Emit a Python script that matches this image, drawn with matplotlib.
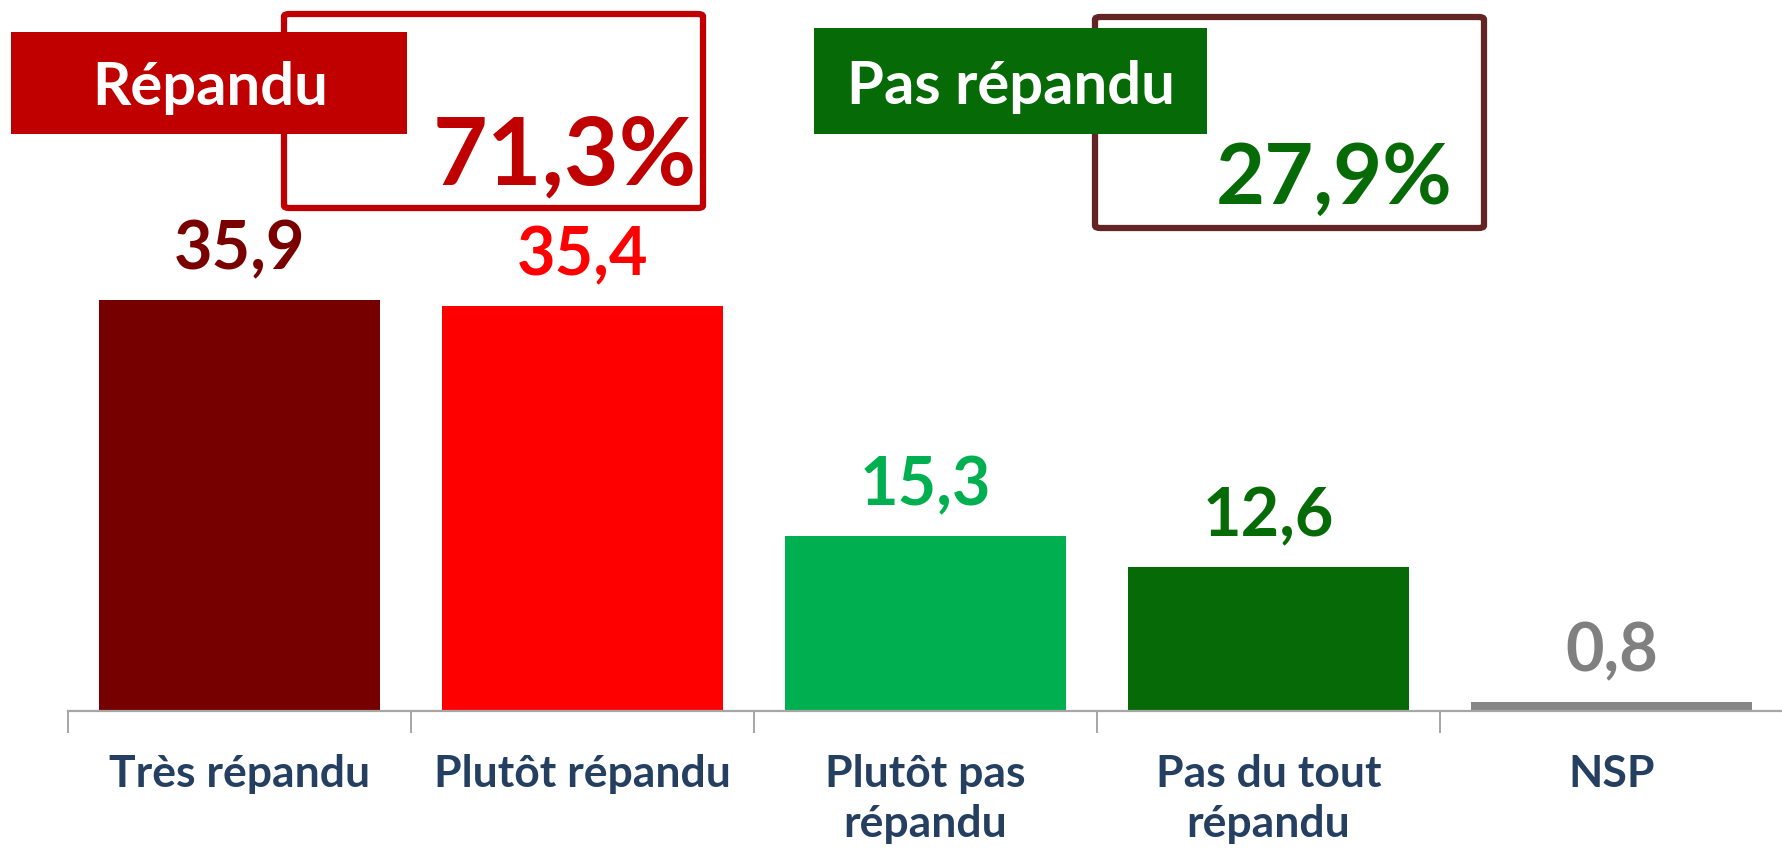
import matplotlib
matplotlib.use("Agg")
import matplotlib.pyplot as plt
from matplotlib.patches import Rectangle, FancyBboxPatch

plt.rcParams['font.family'] = ['Lato', 'DejaVu Sans']
plt.rcParams['font.weight'] = 'bold'

# data
categories = ["Très répandu", "Plutôt répandu", "Plutôt pas\nrépandu", "Pas du tout\nrépandu", "NSP"]
values = [35.9, 35.4, 15.3, 12.6, 0.8]
value_labels = ["35,9", "35,4", "15,3", "12,6", "0,8"]
bar_colors = ["#760000", "#FF0000", "#00B050", "#066B06", "#878787"]
label_colors = ["#7A0000", "#FF0000", "#00B050", "#066B06", "#808080"]
group_names = ["Répandu", "Pas répandu"]
group_totals = ["71,3%", "27,9%"]

W, H = 1783, 855
fig = plt.figure(figsize=(W / 100, H / 100), dpi=100)
ax = fig.add_axes([68 / W, 144 / H, 1715 / W, 711 / H])

x = range(len(categories))
ax.bar(x, values, width=0.82, color=bar_colors)
for i, v in enumerate(values):
    ax.text(i, v + 2.7, value_labels[i], ha="center", va="baseline",
            fontsize=48, fontweight="bold", color=label_colors[i])

ax.set_xlim(-0.5, 4.5)
ax.set_ylim(0, 62.15)
for s in ["top", "right", "left"]:
    ax.spines[s].set_visible(False)
ax.spines["bottom"].set_color("#A6A6A6")
ax.spines["bottom"].set_linewidth(1.6)
ax.set_yticks([])
ax.set_xticks(list(x))
ax.set_xticklabels(categories, fontsize=32, fontweight="bold", color="#243F60",
                   linespacing=1.3)
ax.tick_params(axis="x", which="major", length=0, pad=31)
ax.set_xticks([i - 0.5 for i in range(len(categories) + 1)], minor=True)
ax.tick_params(axis="x", which="minor", length=16, width=1.4, color="#A6A6A6")


def fx(px):
    return px / W


def fy(py):
    return 1 - py / H


# "Répandu" group box
box1 = FancyBboxPatch((fx(284), fy(208)), fx(703) - fx(284), fy(14) - fy(208),
                      boxstyle="round,pad=0,rounding_size=0.003", transform=fig.transFigure,
                      fill=False, edgecolor="#C00000", linewidth=4.5)
fig.add_artist(box1)
fig.add_artist(Rectangle((fx(11), fy(134)), fx(407) - fx(11), fy(32) - fy(134),
                         transform=fig.transFigure, facecolor="#C00000", edgecolor="none"))
fig.text(fx(210), fy(105), group_names[0], ha="center", va="baseline",
         fontsize=43, fontweight="bold", color="white")
fig.text(fx(697), fy(185), group_totals[0], ha="right", va="baseline",
         fontsize=68, fontweight="bold", color="#C00000")

# "Pas répandu" group box
box2 = FancyBboxPatch((fx(1095), fy(228)), fx(1484) - fx(1095), fy(17) - fy(228),
                      boxstyle="round,pad=0,rounding_size=0.003", transform=fig.transFigure,
                      fill=False, edgecolor="#632523", linewidth=4.5)
fig.add_artist(box2)
fig.add_artist(Rectangle((fx(814), fy(134)), fx(1207) - fx(814), fy(28) - fy(134),
                         transform=fig.transFigure, facecolor="#066B06", edgecolor="none"))
fig.text(fx(1011), fy(104), group_names[1], ha="center", va="baseline",
         fontsize=43, fontweight="bold", color="white")
fig.text(fx(1453), fy(204), group_totals[1], ha="right", va="baseline",
         fontsize=61, fontweight="bold", color="#066B06")

fig.savefig("out.png", dpi=100)
